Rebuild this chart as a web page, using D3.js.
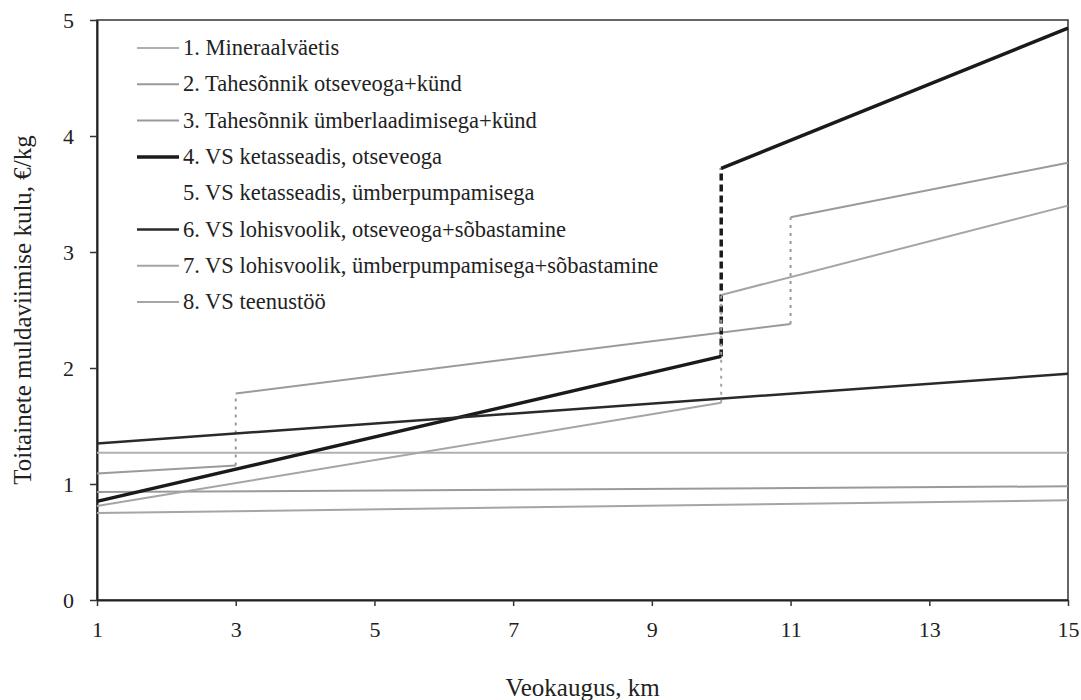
<!DOCTYPE html>
<html>
<head>
<meta charset="utf-8">
<script src="https://cdn.jsdelivr.net/npm/d3@7"></script>
<style>
  body { margin: 0; background: #fff; }
</style>
</head>
<body>
<svg id="chart" width="1081" height="700"></svg>
<script>
// andmed (km, €/kg); sama x kaks korda = hüpe
const names = [
  "1. Mineraalväetis",
  "2. Tahesõnnik otseveoga+künd",
  "3. Tahesõnnik ümberlaadimisega+künd",
  "4. VS ketasseadis, otseveoga",
  "5. VS ketasseadis, ümberpumpamisega",
  "6. VS lohisvoolik, otseveoga+sõbastamine",
  "7. VS lohisvoolik, ümberpumpamisega+sõbastamine",
  "8. VS teenustöö"
];
const s1 = [[1, 1.27], [15, 1.27]];
const s2 = [[1, 1.09], [3, 1.16], [3, 1.78], [11, 2.38], [11, 3.30], [15, 3.77]];
const s3 = [[1, 0.93], [15, 0.98]];
const s4 = [[1, 0.85], [10, 2.10], [10, 3.72], [15, 4.93]];
const s5 = [];
const s6 = [[1, 1.35], [15, 1.95]];
const s7 = [[1, 0.81], [10, 1.70], [10, 2.63], [15, 3.40]];
const s8 = [[1, 0.75], [15, 0.86]];
const xTicks = [1, 3, 5, 7, 9, 11, 13, 15];
const yTicks = [0, 1, 2, 3, 4, 5];

const seriesData = [s1, s2, s3, s4, s5, s6, s7, s8];
const colors = ["#b0b0b0", "#9a9a9a", "#9a9a9a", "#1a1a1a", "#ffffff", "#2a2a2a", "#a5a5a5", "#a5a5a5"];
const widths = [2, 2, 2, 3.5, 2, 2.5, 2, 2];
const FONT = "'Liberation Serif', 'Times New Roman', Tinos, 'DejaVu Serif', serif";

const svg = d3.select("#chart").attr("font-family", FONT);
const margin = { top: 20, right: 13, bottom: 100, left: 97 };
const width = +svg.attr("width") - margin.left - margin.right;
const height = +svg.attr("height") - margin.top - margin.bottom;

const chart = svg.append("g")
    .attr("transform", `translate(${margin.left},${margin.top})`);

const x = d3.scaleLinear().domain([1, 15]).range([0, width]);
const y = d3.scaleLinear().domain([0, 5]).range([height, 0]);

// raam
chart.append("rect")
    .attr("width", width)
    .attr("height", height)
    .attr("fill", "none")
    .attr("stroke", "#333")
    .attr("stroke-width", 1.5);

// teljed
const xAxis = chart.append("g")
    .attr("transform", `translate(0,${height})`)
    .call(d3.axisBottom(x).tickValues(xTicks).tickFormat(d3.format("d"))
        .tickSize(6).tickSizeOuter(0).tickPadding(15));
const yAxis = chart.append("g")
    .call(d3.axisLeft(y).tickValues(yTicks).tickFormat(d3.format("d"))
        .tickSize(7).tickSizeOuter(0).tickPadding(16));

[xAxis, yAxis].forEach(a => {
    a.attr("font-family", FONT).attr("font-size", 22);
    a.select(".domain").attr("stroke", "#222").attr("stroke-width", 2);
    a.selectAll(".tick line").attr("stroke", "#333").attr("stroke-width", 1.5);
    a.selectAll(".tick text").attr("fill", "#222");
});

// jooned: tavalised lõigud pidevad, vertikaalsed hüpped katkendlikud
const line = d3.line().x(d => x(d[0])).y(d => y(d[1]));

seriesData.forEach((pts, i) => {
    for (let k = 0; k < pts.length - 1; k++) {
        const a = pts[k], b = pts[k + 1];
        const jump = a[0] === b[0];
        chart.append("path")
            .datum([a, b])
            .attr("d", line)
            .attr("fill", "none")
            .attr("stroke", colors[i])
            .attr("stroke-width", widths[i])
            .attr("stroke-dasharray", jump ? (i === 3 ? "7,4" : "3,5") : null);
    }
});

// legend
const legend = chart.append("g").attr("transform", "translate(40,28)");
names.forEach((n, i) => {
    const row = legend.append("g").attr("transform", `translate(0,${i * 36.3})`);
    row.append("line")
        .attr("x1", 0).attr("x2", 42)
        .attr("y1", 0).attr("y2", 0)
        .attr("stroke", colors[i])
        .attr("stroke-width", widths[i]);
    row.append("text")
        .attr("x", 46)
        .attr("y", 7)
        .attr("fill", "#222")
        .attr("font-size", 22.5)
        .text(n);
});

// telgede nimed
chart.append("text")
    .attr("text-anchor", "middle")
    .attr("x", width / 2)
    .attr("y", height + 96)
    .attr("fill", "#222")
    .attr("font-size", 25)
    .text("Veokaugus, km");

chart.append("text")
    .attr("text-anchor", "middle")
    .attr("transform", "rotate(-90)")
    .attr("x", -height / 2)
    .attr("y", -66)
    .attr("fill", "#222")
    .attr("font-size", 25)
    .text("Toitainete muldaviimise kulu, €/kg");
</script>
</body>
</html>
